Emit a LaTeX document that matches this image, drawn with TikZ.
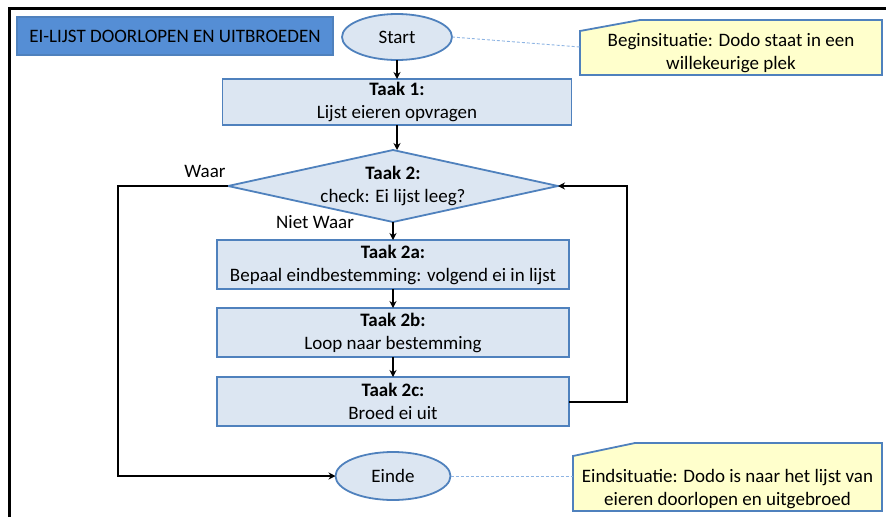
\documentclass[tikz,border=0pt]{standalone}
\usepackage{fontspec}
\setmainfont{Carlito}
\usetikzlibrary{positioning}
\usetikzlibrary{shapes.geometric}
\usetikzlibrary{arrows.meta}
\usetikzlibrary{backgrounds}

\definecolor{taakfill}{RGB}{220,230,242}
\definecolor{taakdraw}{RGB}{79,129,189}
\definecolor{titelfill}{RGB}{85,142,213}
\definecolor{notafill}{RGB}{255,255,204}
\definecolor{notalijn}{RGB}{142,180,227}

\begin{document}
\begin{tikzpicture}
		[x=1pt, y=-1pt,
		 font=\fontsize{19}{23}\selectfont,
		 every node/.style={outer sep=0pt},
		 taak/.style={rectangle, draw=taakdraw, fill=taakfill, line width=1.8pt, minimum width=352pt, minimum height=49pt, inner sep=1pt, align=center},
		 keuze/.style={diamond, shape aspect=4.58, draw=taakdraw, fill=taakfill, line width=1.8pt, minimum width=330pt, minimum height=72pt, inner sep=-5pt, align=center},
		 eindpunt/.style={ellipse, draw=taakdraw, fill=taakfill, line width=1.8pt, minimum width=110pt, minimum height=46pt, inner sep=0pt},
		 nota/.style={rectangle, inner xsep=2pt, inner ysep=0pt, minimum height=44pt, align=center},
		 notarand/.style={draw=taakdraw, fill=notafill, line width=1.8pt},
		 notalink/.style={draw=notalijn, line width=0.9pt, dash pattern=on 3pt off 2pt},
		 pijl/.style={-{Stealth[length=7pt, width=7pt]}, line width=1.6pt},
		 lijn/.style={line width=2pt}]
		\useasboundingbox (0,0) rectangle (886,517);
		\draw[line width=3pt] (9.5,517) -- (9.5,8) -- (886,8);

		\node[rectangle, draw=taakdraw, fill=titelfill, line width=1.8pt, minimum width=316pt, minimum height=38pt] (titel) at (175,36) {EI-LIJST DOORLOPEN EN UITBROEDEN};

		\node[eindpunt] (start) at (397,37) {Start};
		\node[taak, minimum width=349pt, minimum height=46pt, below=19pt of start] (t1) {\textbf{Taak 1:}\\Lijst eieren opvragen};
		\node[keuze, below=25pt of t1, xshift=-4pt] (t2) {\textbf{Taak 2:}\\check: Ei lijst leeg?};
		\node[taak, below=18pt of t2] (t2a) {\textbf{Taak 2a:}\\Bepaal eindbestemming: volgend ei in lijst};
		\node[taak, below=19pt of t2a] (t2b) {\textbf{Taak 2b:}\\Loop naar bestemming};
		\node[taak, below=20pt of t2b] (t2c) {\textbf{Taak 2c:}\\Broed ei uit};
		\node[eindpunt, minimum width=115pt, minimum height=48pt, below=26pt of t2c] (einde) {Einde};

		\node (waar) at (205,171) {Waar};
		\node (nietwaar) at (315,222) {Niet Waar};

		\node[nota, minimum width=302pt] (begin) at (731,53) {Beginsituatie: Dodo staat in een\\willekeurige plek};
		\node[nota, minimum width=309pt] (eind) at (727.5,489) {Eindsituatie: Dodo is naar het lijst van\\eieren doorlopen en uitgebroed};
		\begin{scope}[on background layer]
			\draw[notarand] (begin.north west) -- ([xshift=60pt, yshift=11pt]begin.north west) -- ([yshift=11pt]begin.north east) -- (begin.south east) -- (begin.south west) -- cycle;
			\draw[notarand] ([yshift=11pt]eind.north west) -- ([xshift=62pt, yshift=24pt]eind.north west) -- ([yshift=24pt]eind.north east) -- (eind.south east) -- (eind.south west) -- cycle;
		\end{scope}

		\draw[notalink] (start.east) -- ([yshift=6pt]begin.west);
		\draw[notalink] (einde.east) -- ([yshift=13pt]eind.west);

		\draw[pijl] (start) -- (t1);
		\draw[pijl] (t1.south) -- (t1.south |- t2.north);
		\draw[pijl] (t2) -- (t2a);
		\draw[pijl] (t2a) -- (t2b);
		\draw[pijl] (t2b) -- (t2c);
		\draw[pijl, lijn] (t2c.east) -- ++(58,0) |- (t2.east);
		\draw[pijl, lijn] (t2.west) -- ++(-110,0) |- (einde.west);
	\end{tikzpicture}
\end{document}
